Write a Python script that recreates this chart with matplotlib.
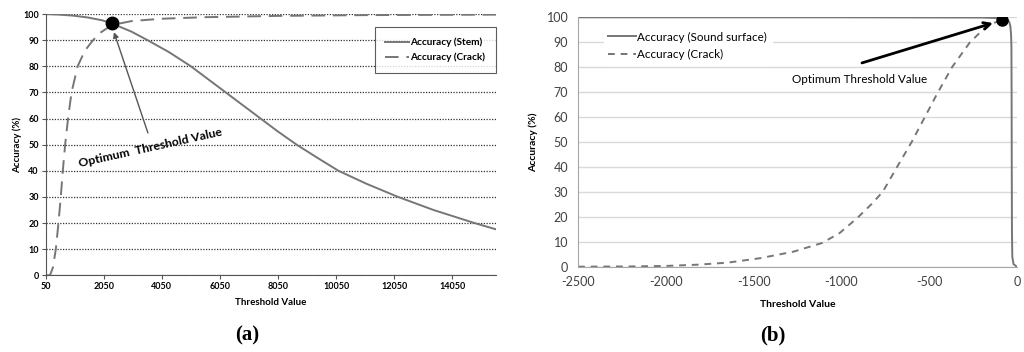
import matplotlib.pyplot as plt

plt.rcParams["font.family"] = ["Lato", "DejaVu Sans"]
plt.rcParams["axes.unicode_minus"] = False

# ==========================================================
# Data (a) - stem / crack accuracy vs threshold
# ==========================================================

stem_x = [50, 500, 1000, 1500, 2000, 2330, 3000, 3560, 4300, 5050, 5650, 6250,
          6850, 7450, 8050, 8690, 9400, 10130, 11100, 12180, 13400, 14810, 15550]
stem_y = [100, 99.8, 99.4, 98.7, 97.6, 96.4, 93.3, 90, 85.4, 80, 75, 70,
          65, 60, 55, 50, 45, 40, 35, 30, 25, 20, 17.6]

crack_a_x = [50, 200, 300, 400, 490, 570, 640, 720, 820, 940, 1150, 1400,
             1680, 1950, 2330, 3000, 4000, 5500, 8000, 11000, 15550]
crack_a_y = [0, 0, 3, 10, 20, 30, 40, 50, 60, 70, 80, 86,
             90, 93, 95.8, 97.3, 98.2, 98.8, 99.3, 99.6, 99.8]

opt_a = (2330, 96.4)

# ==========================================================
# Data (b) - sound surface / crack accuracy vs threshold
# ==========================================================

sound_x = [-2500, -1000, -200, -80, -55, -45, -38, -34, -32, -31, -30, -29, -27, -20, -5, 0]
sound_y = [100, 100, 99.9, 99.6, 99.0, 98.2, 96.5, 93, 88, 70, 40, 15, 4, 1, 0.2, 0]

crack_b_x = [-2500, -2200, -2000, -1820, -1650, -1463, -1274, -1110, -1010,
             -910, -830, -765, -683, -600, -525, -450, -370, -268, -194, -140, -87]
crack_b_y = [0, 0.1, 0.3, 0.8, 1.6, 3.4, 6, 9.5, 13.5,
             19.5, 25, 30, 40, 50, 60, 70, 80, 90, 95, 97.5, 98.9]

opt_b = (-87, 98.9)

LINE = "#767676"

fig = plt.figure(figsize=(10.24, 3.52), dpi=100)

# ==========================================================
# Panel (a)
# ==========================================================

ax1 = fig.add_axes([0.0446, 0.218, 0.4397, 0.742])
ax1.plot(stem_x, stem_y, color=LINE, lw=1.4, label="Accuracy (Stem)")
ax1.plot(crack_a_x, crack_a_y, color=LINE, lw=1.4, dashes=(7, 4),
         label="Accuracy (Crack)")
ax1.plot(*opt_a, "o", color="black", ms=9, zorder=5)

ax1.set_xlim(50, 15550)
ax1.set_ylim(0, 100)
ax1.set_xticks(range(50, 15000, 2000))
ax1.set_yticks(range(0, 101, 10))
ax1.yaxis.grid(True, linestyle=(0, (1, 1.2)), color="#333333", lw=0.9)
for s in ["top", "right"]:
    ax1.spines[s].set_visible(False)
for s in ["left", "bottom"]:
    ax1.spines[s].set_color("#555555")
ax1.tick_params(labelsize=6.5, length=3, color="#555555", pad=2)
for lab in ax1.get_xticklabels() + ax1.get_yticklabels():
    lab.set_fontweight("bold")
ax1.set_xlabel("Threshold Value", fontsize=7, fontweight="bold", labelpad=5)
ax1.set_ylabel("Accuracy (%)", fontsize=7, fontweight="bold", labelpad=1)

leg1 = ax1.legend(loc="upper right", bbox_to_anchor=(1.0, 0.95),
                  prop={"weight": "bold", "size": 7.2}, frameon=True,
                  fancybox=False, handlelength=2.4, handletextpad=0.1,
                  borderpad=1.05, labelspacing=0.55, borderaxespad=0)
leg1.get_frame().set_edgecolor("#333333")
leg1.get_frame().set_linewidth(0.8)

ax1.annotate("", xy=(opt_a[0] + 40, opt_a[1] - 2.3), xytext=(3600, 53.5),
             arrowprops=dict(arrowstyle="-|>", color="#555555", lw=1.0,
                             mutation_scale=8))
ax1.text(3640, 49.0, "Optimum  Threshold Value", fontsize=8.8, fontweight="bold",
         rotation=12.5, ha="center", va="center")

fig.text(247 / 1024, 1 - 335 / 352, "(a)", ha="center", va="center",
         fontsize=15, fontweight="bold", family="Liberation Serif")

# ==========================================================
# Panel (b)
# ==========================================================

ax2 = fig.add_axes([0.5645, 0.2424, 0.4287, 0.7085])
ax2.plot(sound_x, sound_y, color=LINE, lw=1.4, label="Accuracy (Sound surface)")
ax2.plot(crack_b_x, crack_b_y, color=LINE, lw=1.4, dashes=(3.5, 3),
         label="Accuracy (Crack)")
ax2.plot(*opt_b, "o", color="black", ms=8, zorder=5)

ax2.set_xlim(-2500, 0)
ax2.set_ylim(0, 100)
ax2.set_xticks(range(-2500, 1, 500))
ax2.set_yticks(range(0, 101, 10))
ax2.yaxis.grid(True, color="#d9d9d9", lw=1.0)
ax2.set_axisbelow(True)
for s in ["top", "right"]:
    ax2.spines[s].set_visible(False)
for s in ["left", "bottom"]:
    ax2.spines[s].set_color("#a6a6a6")
ax2.tick_params(labelsize=9, length=0, pad=7, labelcolor="#404040")
ax2.set_xlabel("Threshold Value", fontsize=7.5, fontweight="bold", labelpad=8)
ax2.set_ylabel("Accuracy (%)", fontsize=7.5, fontweight="bold", labelpad=6)

leg2 = ax2.legend(loc="upper left", bbox_to_anchor=(0.045, 0.985), fontsize=8.4,
                  frameon=True, fancybox=False, handlelength=2.4,
                  handletextpad=0.1, borderpad=0.4, labelspacing=0.55)
leg2.get_frame().set_edgecolor("white")
leg2.get_frame().set_alpha(1.0)

ax2.annotate("", xy=(-137, 97.7), xytext=(-883, 81.7),
             arrowprops=dict(arrowstyle="->", color="black", lw=2.0,
                             shrinkA=0, shrinkB=0, mutation_scale=12))
ax2.text(-894, 74.9, "Optimum Threshold Value", fontsize=8.4,
         ha="center", va="center")

fig.text(773 / 1024, 1 - 335 / 352, "(b)", ha="center", va="center",
         fontsize=15, fontweight="bold", family="Liberation Serif")

fig.savefig("out.png", dpi=100)
